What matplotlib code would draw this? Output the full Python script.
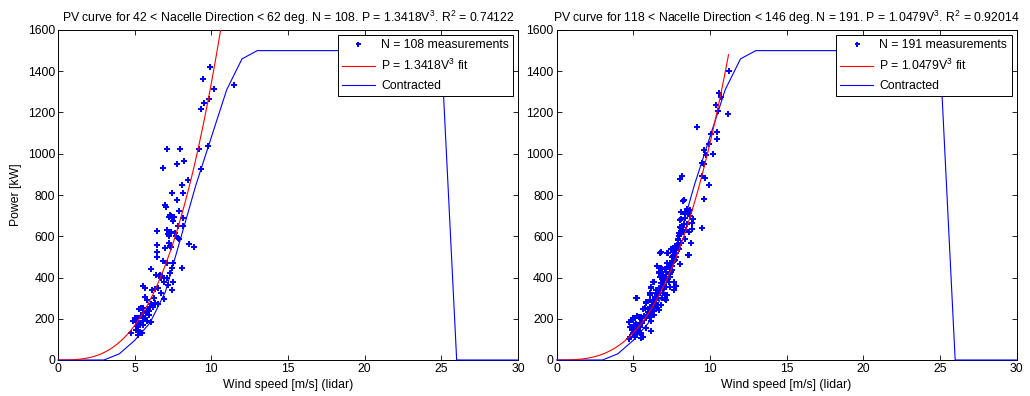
import numpy as np
import matplotlib
matplotlib.use("Agg")
import matplotlib.pyplot as plt
from matplotlib.lines import Line2D

plt.rcParams['font.family'] = ['Liberation Sans', 'DejaVu Sans']
plt.rcParams['mathtext.fontset'] = 'custom'
plt.rcParams['mathtext.rm'] = 'Liberation Sans'
plt.rcParams['mathtext.default'] = 'regular'

# ---- measurements, sector 42-62 deg ----
left_speed = [
    9.92, 9.44, 10.18, 11.48, 9.85, 9.50, 9.31, 7.13, 7.98, 9.18, 9.81,
    6.87, 7.74, 8.22, 9.31, 8.48, 8.11, 7.44, 8.15, 7.74, 7.00,
    7.33, 7.44, 7.26, 7.52, 7.91, 8.15, 7.09, 7.37, 7.85, 8.15,
    7.63, 6.46, 7.24, 7.81, 7.89, 6.44, 7.26, 7.35, 7.00, 6.44,
    8.55, 8.87, 6.44, 7.09, 7.52, 6.09, 7.44, 8.07, 6.37, 6.61,
    6.80, 6.74, 7.13, 7.50, 5.56, 5.65, 6.15, 6.30, 7.18, 7.44,
    6.70, 5.67, 5.78, 6.91, 6.35, 6.54, 6.00, 6.22, 5.26, 5.57,
    5.83, 5.57, 5.92, 5.02, 5.17, 4.91, 5.09, 5.65, 5.78, 6.07,
    5.13, 5.52, 5.09, 5.35, 5.46, 5.22, 4.74,
    5.30, 5.42, 5.75, 6.05, 6.25, 6.55, 6.90, 7.30, 7.30, 7.05,
    7.40, 7.55, 5.20, 5.95, 5.55, 6.65, 7.20, 7.70, 6.85, 5.40,
]
left_power = [
    1421, 1362, 1312, 1332, 1264, 1244, 1219, 1023, 1023, 1021, 1037,
    932, 949, 965, 924, 874, 848, 808, 808, 774, 751,
    705, 687, 692, 676, 724, 690, 630, 619, 650, 650,
    614, 624, 601, 592, 585, 558, 566, 549, 545, 525,
    562, 549, 498, 472, 469, 440, 444, 444, 414, 407,
    409, 396, 399, 380, 359, 351, 339, 343, 364, 339,
    323, 307, 291, 296, 278, 272, 255, 255, 246, 251,
    239, 226, 218, 202, 202, 191, 186, 202, 191, 186,
    165, 170, 145, 137, 129, 121, 129,
    180, 215, 230, 270, 300, 350, 380, 420, 555, 740,
    700, 695, 160, 240, 190, 410, 610, 600, 480, 250,
]

# ---- measurements, sector 118-146 deg ----
right_speed = [
    11.22, 10.59, 10.70, 10.37, 10.52, 11.17, 9.15, 10.09, 10.46, 10.44,
    9.92, 9.61, 9.72, 10.20, 9.48, 9.61, 8.18, 8.07, 9.50, 9.67,
    9.93, 8.32, 9.61,
    8.24, 8.13, 8.35, 8.64, 8.73, 8.09, 8.85, 9.48, 8.07, 8.02,
    8.28, 8.61, 7.94, 8.79, 8.15, 7.70, 7.48, 6.80, 7.26, 7.81,
    8.64, 7.55, 7.70, 8.07, 6.57, 6.83, 7.16, 6.68, 7.48, 7.37,
    6.72, 6.28, 7.04, 7.33, 7.11, 6.18, 6.72, 7.37, 7.64, 6.07,
    6.50, 6.94, 5.24, 6.13, 7.16, 5.85, 6.50, 6.83, 5.74, 6.28,
    6.68, 6.07, 6.39, 5.41, 5.81, 4.98, 6.18, 5.20, 5.59, 4.87,
    5.30, 5.85, 6.18, 4.98, 5.46, 5.09, 5.63, 4.76,
    8.48, 8.63, 8.37, 8.92, 9.48, 8.07, 8.20, 8.28, 8.04, 8.46,
    8.85, 7.91, 8.09, 8.37, 8.79, 7.74, 8.02, 8.59, 6.76, 7.19,
    7.59, 7.81, 7.65, 8.07, 7.33, 7.55, 6.55, 6.68, 6.90, 7.38,
    7.16, 7.64, 7.81, 6.84, 6.33, 6.18, 6.51, 6.94, 6.72, 7.19,
    6.07, 7.05, 6.40, 5.20, 5.85, 6.11, 6.61, 5.63, 5.96, 6.35,
    5.24, 5.02, 5.52, 5.81, 6.11, 4.76, 5.09, 5.42, 4.81, 4.94,
    5.24, 5.54, 6.18, 4.81, 5.52, 5.15,
    5.35, 5.60, 5.70, 5.90, 6.00, 6.20, 6.30, 6.45, 6.60, 6.65,
    6.80, 6.85, 6.95, 7.00, 7.10, 7.20, 7.30, 7.40, 7.50, 7.60,
    7.70, 7.85, 7.95, 8.00, 8.10, 8.30, 8.40, 8.50, 8.70, 5.10,
    5.45, 6.25, 6.55, 6.90,
]
right_power = [
    1403, 1296, 1275, 1236, 1209, 1191, 1130, 1096, 1104, 1070,
    1046, 1018, 994, 997, 955, 950, 894, 876, 894, 884,
    848, 776, 779,
    771, 719, 719, 714, 727, 682, 666, 640, 646, 614,
    621, 622, 585, 566, 569, 546, 537, 522, 517, 517,
    509, 498, 485, 464, 456, 444, 428, 428, 428, 404,
    404, 380, 388, 380, 355, 352, 347, 352, 339, 323,
    323, 323, 299, 291, 291, 275, 275, 267, 251, 255,
    242, 226, 218, 210, 202, 194, 191, 175, 181, 162,
    154, 157, 142, 129, 129, 110, 113, 100,
    732, 719, 708, 682, 640, 679, 646, 621, 613, 630,
    634, 582, 569, 585, 566, 554, 537, 509, 520, 517,
    525, 501, 480, 464, 449, 436, 456, 423, 440, 417,
    401, 380, 359, 375, 380, 348, 339, 343, 323, 315,
    315, 294, 291, 299, 283, 259, 267, 246, 234, 239,
    213, 202, 210, 202, 207, 186, 170, 178, 162, 145,
    137, 129, 142, 113, 105, 120,
    165, 190, 215, 220, 245, 265, 285, 305, 300, 330,
    360, 395, 410, 365, 440, 470, 395, 470, 455, 505,
    520, 560, 545, 600, 640, 660, 690, 660, 700, 150,
    160, 230, 250, 300,
]

# contracted power curve (wind speed m/s, power kW)
contract_speed = [0, 3, 4, 5, 6, 7, 8, 9, 10, 11, 12, 13, 25, 26, 30]
contract_power = [0, 0, 30, 95, 180, 330, 590, 850, 1080, 1310, 1460, 1500, 1500, 0, 0]

panels = [
    dict(speed=left_speed, power=left_power, coef=1.3418, n=108, r2='0.74122',
         sector=('42', '62')),
    dict(speed=right_speed, power=right_power, coef=1.0479, n=191, r2='0.92014',
         sector=('118', '146')),
]

FS = 8.8
fig = plt.figure(figsize=(10.30, 3.96), dpi=100)
axes_rects = [[58 / 1030, 36 / 396, 460 / 1030, 330 / 396],
              [556.5 / 1030, 36 / 396, 460 / 1030, 330 / 396]]

for i, (p, rect) in enumerate(zip(panels, axes_rects)):
    ax = fig.add_axes(rect)
    v = np.array(p['speed'])
    pw = np.array(p['power'])
    ax.plot(v, pw, linestyle='none', marker='P', markersize=4.4,
            color='#0000ff', markeredgewidth=0, zorder=2)
    vfit = np.linspace(0, v.max(), 200)
    ax.plot(contract_speed, contract_power, color='#0000ff', lw=0.8,
            zorder=3, clip_on=False)
    ax.plot(vfit, p['coef'] * vfit ** 3, color='#ff0000', lw=0.8, zorder=4)

    ax.set_xlim(0, 30)
    ax.set_ylim(0, 1600)
    ax.set_xticks(range(0, 31, 5))
    ax.set_yticks(range(0, 1601, 200))
    ax.tick_params(direction='in', length=3.5, width=0.6, top=True, right=True,
                   labelsize=FS, pad=2, colors='black')
    for s in ax.spines.values():
        s.set_linewidth(0.7)
        s.set_color('black')
    ax.set_xlabel('Wind speed [m/s] (lidar)', fontsize=FS, labelpad=3)
    if i == 0:
        ax.set_ylabel('Power [kW]', fontsize=FS, labelpad=4)
    lo, hi = p['sector']
    ax.set_title(f"PV curve for {lo} < Nacelle Direction < {hi} deg. N = {p['n']}. "
                 f"P = {p['coef']:.4f}$V^3$. $R^2$ = {p['r2']}",
                 fontsize=FS, pad=6)

    handles = [
        Line2D([], [], linestyle='none', marker='P', markersize=3.6,
               color='#0000ff', markeredgewidth=0),
        Line2D([], [], color='#ff0000', lw=0.8),
        Line2D([], [], color='#0000ff', lw=0.8),
    ]
    labels = [f"N = {p['n']} measurements",
              f"P = {p['coef']:.4f}$V^3$ fit",
              'Contracted']
    leg = ax.legend(handles, labels, loc='upper right', fontsize=FS,
                    frameon=True, fancybox=False, framealpha=1,
                    edgecolor='black', borderaxespad=0.4, handlelength=2.7,
                    handletextpad=0.5, labelspacing=0.55, borderpad=0.35,
                    numpoints=1)
    leg.get_frame().set_linewidth(0.7)

fig.savefig('out.png', dpi=100)
